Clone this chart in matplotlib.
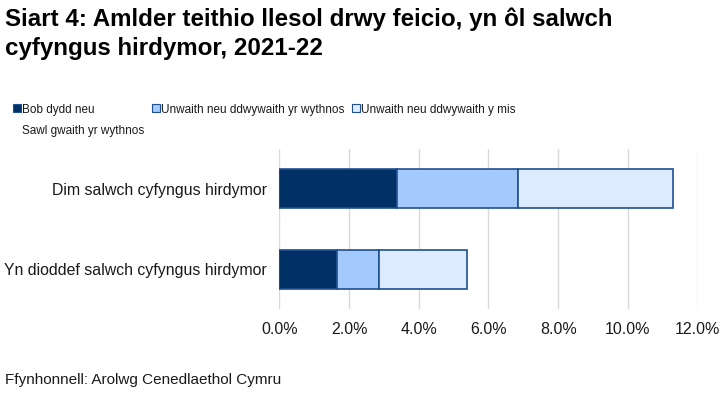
import matplotlib
matplotlib.use("Agg")
import matplotlib.pyplot as plt
from matplotlib.patches import Rectangle
from matplotlib.ticker import FuncFormatter

plt.rcParams['font.family'] = ['Liberation Sans', 'DejaVu Sans']

categories = ["Dim salwch cyfyngus hirdymor", "Yn dioddef salwch cyfyngus hirdymor"]
series_names = ["Bob dydd neu\nSawl gwaith yr wythnos",
                "Unwaith neu ddwywaith yr wythnos",
                "Unwaith neu ddwywaith y mis"]
daily = [3.37, 1.65]
weekly = [3.48, 1.22]
monthly = [4.43, 2.50]
xticks = [0, 2, 4, 6, 8, 10, 12]

colors = ["#003066", "#a3c9fd", "#ddebff"]
edge = "#1f4f8f"

fig = plt.figure(figsize=(7.26, 3.96), dpi=100)
ax = fig.add_axes([0.3847, 0.2187, 0.5763, 0.406])

y = list(range(len(categories)))
left = [0.0] * len(categories)
for vals, c in zip([daily, weekly, monthly], colors):
    ax.barh(y, vals, left=left, height=0.485, color=c, edgecolor=edge, linewidth=1.2, zorder=3)
    left = [l + v for l, v in zip(left, vals)]

ax.set_xlim(0, 12)
ax.set_ylim(1.5, -0.5)
ax.set_yticks(y)
ax.set_yticklabels(categories, fontsize=11.4, color="#1a1a1a")
ax.set_xticks(xticks)
ax.xaxis.set_major_formatter(FuncFormatter(lambda v, p: f"{v:.1f}%"))
ax.tick_params(axis='x', labelsize=11.5, length=0, pad=9, labelcolor="#1a1a1a")
ax.tick_params(axis='y', length=0, pad=9)
ax.grid(axis='x', color="#d9d9d9", linewidth=1, zorder=0)
for s in ax.spines.values():
    s.set_visible(False)

W, H = 726, 396
fig.text(5 / W, 1 - 26 / H, "Siart 4: Amlder teithio llesol drwy feicio, yn ôl salwch",
         fontsize=17.4, fontweight='bold', va='baseline', ha='left')
fig.text(5 / W, 1 - 55 / H, "cyfyngus hirdymor, 2021-22",
         fontsize=17.4, fontweight='bold', va='baseline', ha='left')

# legend
leg_x = [13, 152, 352]
for i, (name, c) in enumerate(zip(series_names, colors)):
    x0 = leg_x[i]
    fig.patches.append(Rectangle((x0 / W, 1 - 112 / H), 8 / W, 8 / H, transform=fig.transFigure,
                                 facecolor=c, edgecolor=edge, linewidth=0.8))
    lines = name.split("\n")
    for j, ln in enumerate(lines):
        fig.text((x0 + 9) / W, 1 - (113 + 21 * j) / H, ln, fontsize=8.45, va='baseline',
                 ha='left', color="#1a1a1a")

fig.text(5 / W, 1 - 384 / H, "Ffynhonnell: Arolwg Cenedlaethol Cymru", fontsize=11.0,
         va='baseline', ha='left', color="#1a1a1a")

fig.savefig("out.png", dpi=100)
